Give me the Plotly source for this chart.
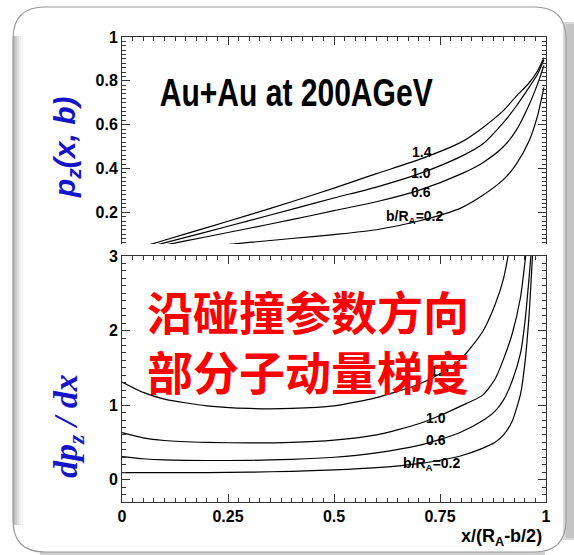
import plotly.graph_objects as go

# ---------------- data ----------------
X_TOP = [0, 0.1, 0.2, 0.3, 0.4, 0.5, 0.6, 0.7, 0.8, 0.85, 0.9, 0.93, 0.96, 0.98, 0.995]
PZ_14 = [0.014, 0.072, 0.13, 0.188, 0.248, 0.31, 0.376, 0.44, 0.52, 0.585, 0.665, 0.73, 0.79, 0.845, 0.905]
PZ_10 = [0.01, 0.06, 0.11, 0.162, 0.213, 0.265, 0.315, 0.375, 0.455, 0.51, 0.61, 0.685, 0.77, 0.83, 0.895]
PZ_06 = [0.01, 0.05, 0.088, 0.127, 0.166, 0.207, 0.248, 0.30, 0.375, 0.425, 0.50, 0.575, 0.69, 0.785, 0.87]
PZ_02 = [0.005, 0.024, 0.043, 0.062, 0.080, 0.098, 0.12, 0.16, 0.22, 0.276, 0.35, 0.42, 0.525, 0.64, 0.77]

X_BOT = [0, 0.05, 0.1, 0.2, 0.3, 0.4, 0.5, 0.6, 0.7, 0.75, 0.8, 0.85, 0.88, 0.9, 0.92, 0.94, 0.95, 0.96, 0.97]
D_14 = [1.31, 1.17, 1.08, 0.99, 0.955, 0.955, 0.99, 1.10, 1.28, 1.42, 1.62, 1.98, 2.35, 2.7, 3.3, 4.0, 4.5, 5.0, 5.6]
D_10 = [0.63, 0.56, 0.525, 0.50, 0.492, 0.50, 0.53, 0.60, 0.75, 0.86, 0.99, 1.13, 1.35, 1.62, 1.95, 2.45, 2.9, 3.4, 4.0]
D_06 = [0.31, 0.28, 0.265, 0.257, 0.258, 0.272, 0.30, 0.36, 0.46, 0.54, 0.64, 0.79, 0.92, 1.07, 1.32, 1.7, 2.1, 2.7, 3.4]
D_02 = [0.095, 0.095, 0.095, 0.095, 0.10, 0.112, 0.13, 0.16, 0.215, 0.26, 0.32, 0.42, 0.5, 0.6, 0.78, 1.15, 1.55, 2.2, 3.2]

TOP_LABELS = ["1.4", "1.0", "0.6", "b/R<sub>A</sub>=0.2"]
X_TICKS = [0, 0.25, 0.5, 0.75, 1]
X_TICKTEXT = ["0", "0.25", "0.5", "0.75", "1"]
TOP_YTICKS = [0.2, 0.4, 0.6, 0.8, 1]
TOP_YTICKTEXT = ["0.2", "0.4", "0.6", "0.8", "1"]
BOT_YTICKS = [0, 1, 2, 3]
TITLE = "Au+Au at 200AGeV"
CN_TEXT = "沿碰撞参数方向<br>部分子动量梯度"

# ---------------- layout helpers ----------------
W, H = 574, 555
L, R, T, B = 122, 28, 37, 53
PW, PH = W - L - R, H - T - B


def px(xp):
    return (xp - L) / PW


def py(yp):
    return (H - B - yp) / PH


fig = go.Figure()

line_style = dict(color="black", width=1.2)
for ys in (PZ_14, PZ_10, PZ_06, PZ_02):
    fig.add_trace(go.Scatter(x=X_TOP, y=ys, mode="lines", line=dict(shape="spline", smoothing=0.7, **line_style),
                             xaxis="x2", yaxis="y2", showlegend=False, hoverinfo="skip"))
for ys in (D_14, D_10, D_06, D_02):
    fig.add_trace(go.Scatter(x=X_BOT, y=ys, mode="lines", line=dict(shape="spline", smoothing=0.6, **line_style),
                             xaxis="x", yaxis="y", showlegend=False, hoverinfo="skip"))

tickfont = dict(family="Liberation Sans, Arial", size=16, color="black", weight="bold")
axcommon = dict(showgrid=False, zeroline=False, linecolor="#333", linewidth=1, ticks="inside",
                tickcolor="#333", tickwidth=1)

top_dom = [py(244), 1]
bot_dom = [0, py(256)]

fig.update_layout(
    width=W, height=H,
    margin=dict(l=L, r=R, t=T, b=B, pad=0),
    paper_bgcolor="white", plot_bgcolor="white",
    showlegend=False,
    xaxis=dict(domain=[0, 1], range=[0, 1], tickvals=X_TICKS, ticktext=X_TICKTEXT, ticklen=8,
               showline=True, mirror="ticks", tickfont=tickfont, anchor="y",
               minor=dict(dtick=0.025, tick0=0, ticklen=4, ticks="inside", tickcolor="#333"), **axcommon),
    yaxis=dict(domain=bot_dom, range=[-0.3, 3], tickvals=BOT_YTICKS, ticklen=8, showline=True,
               mirror="ticks", tickfont=tickfont, anchor="x",
               minor=dict(dtick=0.1, tick0=0, ticklen=4, ticks="inside", tickcolor="#333"), **axcommon),
    xaxis2=dict(domain=[0, 1], range=[0, 1], tickvals=X_TICKS, ticklen=8, showline=True, mirror=False,
                side="top", showticklabels=False, anchor="y2",
                minor=dict(dtick=0.025, tick0=0, ticklen=4, ticks="inside", tickcolor="#333"), **axcommon),
    yaxis2=dict(domain=top_dom, range=[0.055, 1], tickvals=TOP_YTICKS, ticktext=TOP_YTICKTEXT, ticklen=8,
                showline=True, mirror="ticks", tickfont=tickfont, anchor="x2",
                minor=dict(dtick=0.02, tick0=0, ticklen=4, ticks="inside", tickcolor="#333"), **axcommon),
)

ann = []
lab_font = dict(family="Liberation Sans, Arial", size=14, color="black")
# top panel curve labels
top_pos = [(0.707, 0.477), (0.705, 0.379), (0.705, 0.293), (0.691, 0.178)]
for t, (x, y) in zip(TOP_LABELS, top_pos):
    ann.append(dict(x=x, y=y, xref="x2", yref="y2", text="<b>" + t + "</b>", showarrow=False, font=lab_font,
                    xanchor="center", yanchor="middle"))
# bottom panel curve labels
bot_pos = [(0.75, 1.46), (0.741, 0.83), (0.741, 0.535), (0.73, 0.214)]
for t, (x, y) in zip(TOP_LABELS, bot_pos):
    ann.append(dict(x=x, y=y, xref="x", yref="y", text="<b>" + t + "</b>", showarrow=False, font=lab_font,
                    xanchor="center", yanchor="middle"))

C = dict(xanchor="center", yanchor="middle", showarrow=False, xref="paper", yref="paper")
# title
ann.append(dict(x=px(296), y=py(92), text="<b>" + TITLE + "</b>",
                font=dict(family="Liberation Sans, Arial", size=39, color="black"), **C))
# Chinese overlay text
ann.append(dict(x=px(308), y=py(340), text="<b>" + CN_TEXT + "</b>",
                font=dict(family="Noto Sans CJK SC", size=46, color="#ff0000"), **C))
# y-axis titles
ann.append(dict(x=px(66), y=py(147), textangle=-90, text="<b><i>p<sub>z</sub>(x, b)</i></b>",
                font=dict(family="Liberation Sans, Arial", size=30, color="#1414c8"), **C))
ann.append(dict(x=px(68), y=py(426), textangle=-90, text="<b><i>dp<sub>z</sub> / dx</i></b>",
                font=dict(family="Liberation Serif, Times New Roman", size=34, color="#1414c8"), **C))
# x-axis title
ann.append(dict(x=px(544), y=py(537), xref="paper", yref="paper", xanchor="right", yanchor="middle",
                showarrow=False, text="<b>x/(R<sub>A</sub>-b/2)</b>",
                font=dict(family="Liberation Sans, Arial", size=18, color="black")))
fig.update_layout(annotations=ann)

# ---------------- frame (slide border) ----------------
shapes = []


def rect(x0, y0, x1, y1, fill, line=None):
    return dict(type="rect", xref="paper", yref="paper", x0=px(x0), x1=px(x1), y0=py(y0), y1=py(y1),
                fillcolor=fill, line=dict(width=0) if line is None else line, layer="below")


# right shadow
shapes.append(rect(563, 22, 574, 540, "#d8d8d8"))
shapes.append(rect(566, 24, 574, 538, "#c4c4c4"))
# bottom shadow
shapes.append(rect(40, 552, 545, 555, "#cfcfcf"))
# left gradient
for i, c in enumerate(["#b8b8b8", "#cdcdcd", "#dedede", "#ececec", "#f6f6f6"]):
    shapes.append(rect(13 + 2 * i, 36, 15 + 2 * i, 525, c))

# rounded outline
x0, y0, x1, y1, r = 13, 7, 566, 552, 32


def P(a, b):
    return f"{px(a):.5f},{py(b):.5f}"


path = (f"M {P(x0 + r, y0)} L {P(x1 - r, y0)} Q {P(x1, y0)} {P(x1, y0 + r)} "
        f"L {P(x1, y1 - r)} Q {P(x1, y1)} {P(x1 - r, y1)} L {P(x0 + r, y1)} "
        f"Q {P(x0, y1)} {P(x0, y1 - r)} L {P(x0, y0 + r)} Q {P(x0, y0)} {P(x0 + r, y0)} Z")
shapes.append(dict(type="path", xref="paper", yref="paper", path=path, line=dict(color="#9a9a9a", width=1.2),
                   layer="below"))
# white gap between the two panels (bottom panel background)
shapes.append(rect(100, 244, 560, 256, "white"))
fig.update_layout(shapes=shapes)

post_js = """
document.body.style.margin='0';
document.body.style.overflow='hidden';
document.querySelectorAll('text').forEach(function(t){
  if(t.textContent.indexOf('Au+Au')>=0){
    t.setAttribute('textLength','273');
    t.setAttribute('lengthAdjust','spacingAndGlyphs');
  }
});
"""

fig.write_html("out.html", post_script=post_js, config={"displayModeBar": False})
